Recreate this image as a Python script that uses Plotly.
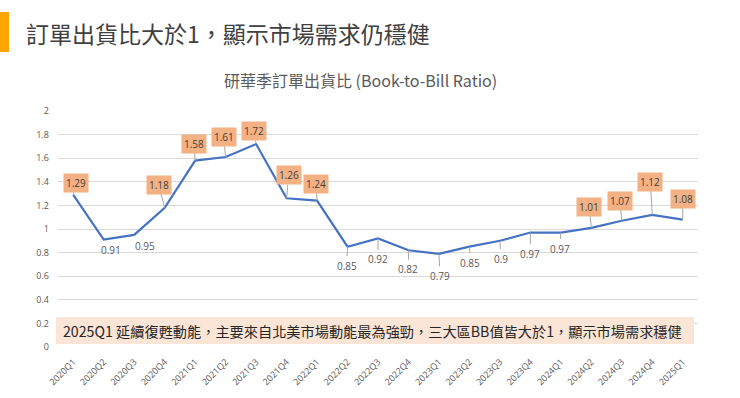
import plotly.graph_objects as go

quarters = ["2020Q1", "2020Q2", "2020Q3", "2020Q4", "2021Q1", "2021Q2", "2021Q3", "2021Q4",
            "2022Q1", "2022Q2", "2022Q3", "2022Q4", "2023Q1", "2023Q2", "2023Q3", "2023Q4",
            "2024Q1", "2024Q2", "2024Q3", "2024Q4", "2025Q1"]
bb_ratio = [1.29, 0.91, 0.95, 1.18, 1.58, 1.61, 1.72, 1.26, 1.24, 0.85, 0.92, 0.82, 0.79,
            0.85, 0.90, 0.97, 0.97, 1.01, 1.07, 1.12, 1.08]
label_text = ["1.29", "0.91", "0.95", "1.18", "1.58", "1.61", "1.72", "1.26", "1.24", "0.85",
              "0.92", "0.82", "0.79", "0.85", "0.9", "0.97", "0.97", "1.01", "1.07", "1.12", "1.08"]
# label offsets (pixels) for the data-label callouts
label_dx = [3, 7, 11, -6, -1, -2, -2, 2, -1, -1, 0, 0, 1, 1, 1, 0, -1, -2, -2, -2, 0]
label_dy = [-12, 10, 11, -23, -17, -20, -13, -23, -17, 19, 21, 19, 22, 16, 18, 21, 16, -21, -20, -33, -21]
y_ticks = [0, 0.2, 0.4, 0.6, 0.8, 1, 1.2, 1.4, 1.6, 1.8, 2]
y_tick_text = ["0", "0.2", "0.4", "0.6", "0.8", "1", "1.2", "1.4", "1.6", "1.8", "2"]

page_title = "訂單出貨比大於1，顯示市場需求仍穩健"
chart_title = "研華季訂單出貨比 (Book-to-Bill Ratio)"
note_text = "2025Q1 延續復甦動能，主要來自北美市場動能最為強勁，三大區BB值皆大於1，顯示市場需求穩健"

CJK = "Noto Sans CJK TC, Noto Sans, sans-serif"
NUM = "Open Sans, Noto Sans, sans-serif"

# plot area in pixels
L, R, T, B = 58, 698, 111, 347
W, H = 740, 398


def px_x(p):
    return (p - L) / (R - L)


def px_y(p):
    return (B - p) / (B - T)


fig = go.Figure()
fig.add_trace(go.Scatter(
    x=quarters, y=bb_ratio, mode="lines",
    line=dict(color="#4472C4", width=2.2),
    hoverinfo="x+y", showlegend=False,
))

annotations = []
for q, v, t, dx, dy in zip(quarters, bb_ratio, label_text, label_dx, label_dy):
    above = dy < 0
    annotations.append(dict(
        x=q, y=v, xref="x", yref="y", text=t,
        showarrow=True, arrowhead=0, arrowwidth=1, arrowcolor="#A6A6A6",
        ax=dx, ay=dy, standoff=0,
        bgcolor="#F4B183" if above else "rgba(0,0,0,0)",
        borderpad=2,
        font=dict(family=NUM, size=10, color="#404040" if above else "#595959"),
    ))

annotations.append(dict(
    x=px_x(24), y=px_y(33), xref="paper", yref="paper", xanchor="left", yanchor="middle",
    text=page_title, showarrow=False,
    font=dict(family=CJK, size=23, color="#404040"),
))
annotations.append(dict(
    x=px_x(360), y=px_y(80), xref="paper", yref="paper", xanchor="center", yanchor="middle",
    text=chart_title, showarrow=False,
    font=dict(family=CJK, size=16, color="#595959"),
))
annotations.append(dict(
    x=px_x(372), y=px_y(331), xref="paper", yref="paper", xanchor="center", yanchor="middle",
    text=note_text, showarrow=False,
    font=dict(family=CJK, size=14.2, color="#262626"),
))

shapes = [
    dict(type="rect", xref="paper", yref="paper",
         x0=px_x(0), x1=px_x(9), y0=px_y(52), y1=px_y(12),
         fillcolor="#FFA500", line=dict(width=0), layer="above"),
    dict(type="rect", xref="paper", yref="paper",
         x0=px_x(56), x1=px_x(694), y0=px_y(344), y1=px_y(317),
         fillcolor="#FBE5D6", line=dict(width=0), layer="above"),
]

fig.update_layout(
    width=W, height=H,
    margin=dict(l=L, r=W - R, t=T, b=H - B, pad=0, autoexpand=False),
    paper_bgcolor="white", plot_bgcolor="white",
    annotations=annotations, shapes=shapes,
    xaxis=dict(
        type="category", tickangle=-45, showgrid=False, zeroline=False,
        showline=False, ticks="", automargin=False, range=[-0.5, len(quarters) - 0.5],
        ticklabelstandoff=7,
        tickfont=dict(family=NUM, size=9, color="#595959"),
    ),
    yaxis=dict(
        range=[0, 2], tickvals=y_ticks, ticktext=y_tick_text, automargin=False,
        showgrid=True, gridcolor="#D9D9D9", gridwidth=1, zeroline=False,
        showline=False, ticks="", ticklabelstandoff=8,
        tickfont=dict(family=NUM, size=9, color="#595959"),
    ),
)

fig.write_html("out.html", config={"displayModeBar": False},
               post_script="document.body.style.margin='0';document.body.style.overflow='hidden';")
